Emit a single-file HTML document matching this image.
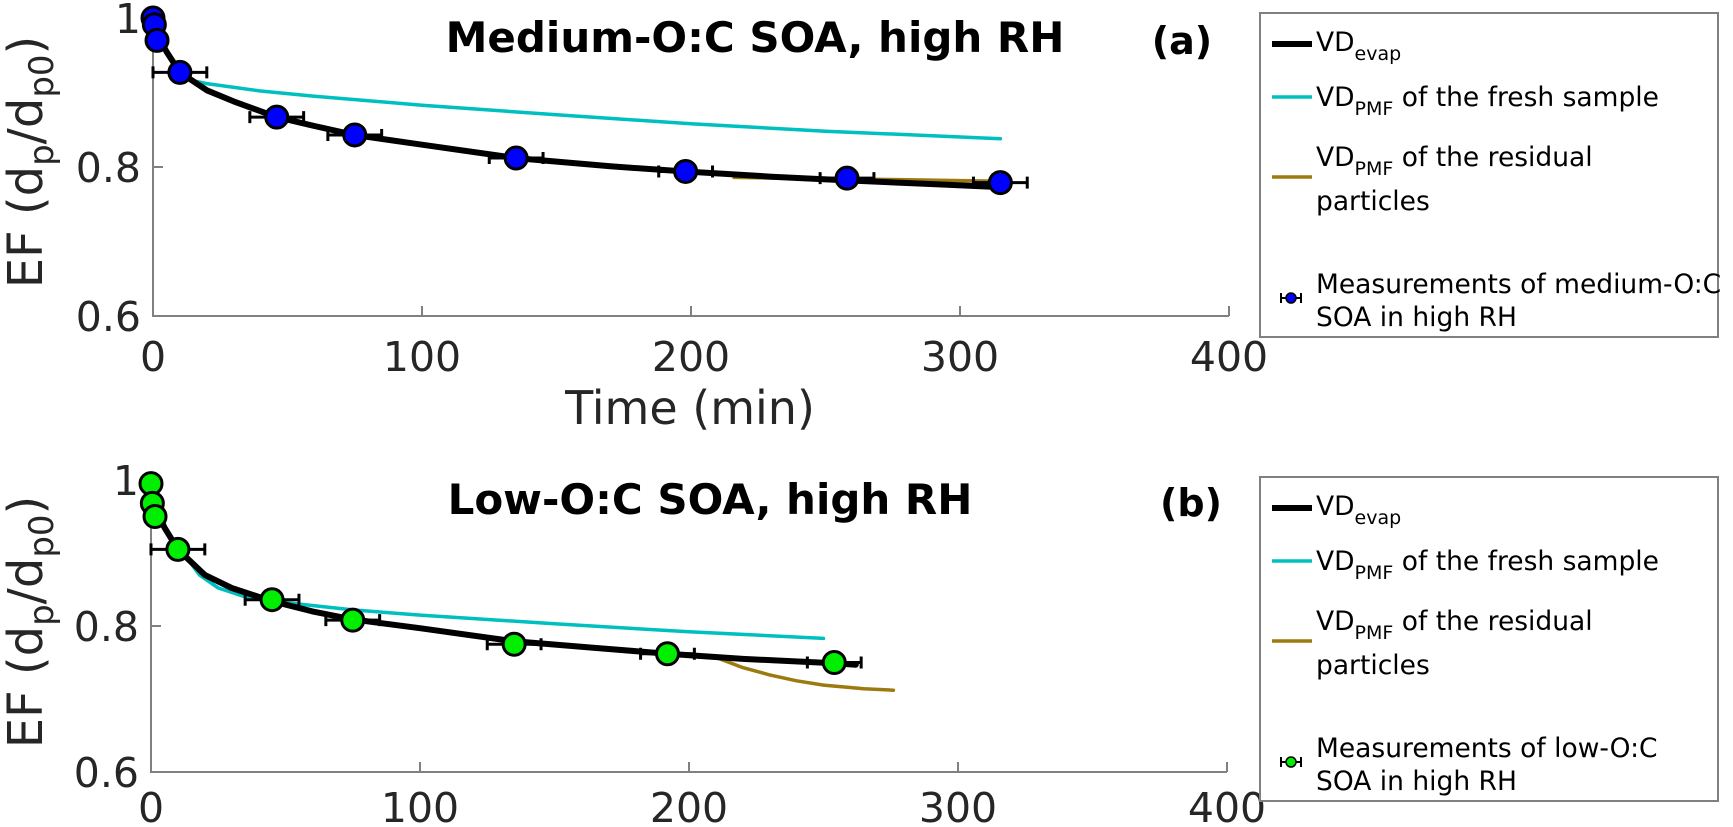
<!DOCTYPE html>
<html><head><meta charset="utf-8"><style>
html,body{margin:0;padding:0;background:#fff}
svg{display:block;font-family:"DejaVu Sans","Liberation Sans",sans-serif}
</style></head><body>
<svg id="chart" width="1733" height="827" viewBox="0 0 1733 827"></svg>
<script>
const tickX=[0,100,200,300,400];
const tickXLabels=["0","100","200","300","400"];
const tickY=[0.6,0.8,1.0];
const tickYLabels=["0.6","0.8","1"];
// panel a
const aEvapT=[0,2,5,10,20,30,46,60,75,100,135,170,198,230,258,290,315];
const aEvapV=[1.0,0.975,0.955,0.927,0.903,0.888,0.867,0.855,0.843,0.830,0.812,0.801,0.794,0.787,0.782,0.777,0.773];
const aFreshT=[12,20,40,60,100,150,200,250,315];
const aFreshV=[0.918,0.912,0.902,0.895,0.883,0.870,0.858,0.848,0.838];
const aResT=[216,250,280,315];
const aResV=[0.786,0.784,0.783,0.781];
const aMeasT=[0,0.5,1.5,10,46,75,135,198,258,315];
const aMeasV=[1.0,0.991,0.97,0.927,0.867,0.843,0.812,0.794,0.785,0.779];
const aMeasErr=[0,0,0,10,10,10,10,10,10,10];
// panel b
const bEvapT=[0,2,5,10,20,30,45,60,75,100,135,165,192,220,254,262];
const bEvapV=[1.0,0.96,0.935,0.905,0.87,0.852,0.834,0.82,0.809,0.797,0.779,0.770,0.762,0.755,0.749,0.747];
const bFreshT=[14,18,25,35,50,75,100,150,200,250];
const bFreshV=[0.89,0.87,0.852,0.840,0.832,0.822,0.815,0.803,0.792,0.783];
const bResT=[210,220,230,240,250,265,276];
const bResV=[0.757,0.743,0.733,0.725,0.719,0.714,0.712];
const bMeasT=[0,0.5,1.5,10,45,75,135,192,254];
const bMeasV=[0.995,0.968,0.950,0.905,0.836,0.808,0.775,0.762,0.750];
const bMeasErr=[0,0,0,10,10,10,10,10,10];

const NS="http://www.w3.org/2000/svg";
const svg=document.getElementById('chart');
function el(tag,attrs,parent,text){const e=document.createElementNS(NS,tag);for(const k in attrs)e.setAttribute(k,attrs[k]);if(text!==undefined)e.textContent=text;(parent||svg).appendChild(e);return e;}

function panel(cfg){
  const g=el('g',{});
  
  
  const sx=t=>cfg.x0+(t-0)/400*(cfg.x1-cfg.x0);
  const sy=v=>cfg.y0+(v-0.6)/0.4*(cfg.y1-cfg.y0);
  const ax=el('path',{d:`M${cfg.x0},${cfg.y1} L${cfg.x0},${cfg.y0} L${cfg.x1},${cfg.y0}`,fill:'none',stroke:'#808080','stroke-width':2},g);
  
  
  tickX.forEach((t,i)=>{
    el('line',{x1:sx(t),x2:sx(t),y1:cfg.y0,y2:cfg.y0-10,stroke:'#808080','stroke-width':2},g);
    const lb=el('text',{x:sx(t),y:cfg.y0+cfg.xlo,'text-anchor':'middle','font-size':41,fill:'#262626'},g,tickXLabels[i]);
    
    
  });
  tickY.forEach((v,i)=>{
    el('line',{x1:cfg.x0,x2:cfg.x0+10,y1:sy(v),y2:sy(v),stroke:'#808080','stroke-width':2},g);
    const lb=el('text',{x:cfg.x0-12,y:sy(v)+15,'text-anchor':'end','font-size':41,fill:'#262626'},g,tickYLabels[i]);
    
    
  });
  const yl=el('text',{transform:`translate(42,${cfg.ylc}) rotate(-90)`,'text-anchor':'middle','font-size':48,fill:'#262626'},g);
  
  
  el('tspan',{},yl,'EF (d');
  el('tspan',{'font-size':34,dy:11},yl,'p');
  el('tspan',{dy:-11},yl,'/d');
  el('tspan',{'font-size':34,dy:11},yl,'p0');
  el('tspan',{dy:-11},yl,')');
  const tt=el('text',{x:cfg.tx,y:cfg.ty,'text-anchor':'middle','font-size':42,'font-weight':'bold',fill:'#000'},g,cfg.title);
  
  
  const pl=el('text',{x:cfg.px,y:cfg.ty+2,'text-anchor':'middle','font-size':38,'font-weight':'bold',fill:'#000'},g,cfg.plabel);
  
  
  const line=(T,V,color,w,name)=>{
    const p=el('path',{d:T.map((t,i)=>(i?'L':'M')+sx(t).toFixed(1)+','+sy(V[i]).toFixed(1)).join(' '),fill:'none',stroke:color,'stroke-width':w,'stroke-linejoin':'round','stroke-linecap':'round'},g);
    
    
  };
  line(cfg.freshT,cfg.freshV,'#00bfbf',3.5,'vd-pmf-fresh-line');
  line(cfg.resT,cfg.resV,'#9b7a0f',3.5,'vd-pmf-residual-line');
  line(cfg.evapT,cfg.evapV,'#000',6,'vd-evap-line');
  cfg.measT.forEach((t,i)=>{
    const cx=sx(t),cy=sy(cfg.measV[i]),e=cfg.err[i];
    if(e>0){
      const a=sx(t-e),b=sx(t+e);
      const eb=el('path',{d:`M${a},${cy} L${b},${cy} M${a},${cy-6} L${a},${cy+6} M${b},${cy-6} L${b},${cy+6}`,stroke:'#000','stroke-width':3,fill:'none'},g);
      
      
    }
    const c=el('circle',{cx:cx,cy:cy,r:11,fill:cfg.mcolor,stroke:'#000','stroke-width':3},g);
    
    
  });
  const L=cfg.ly;
  const lg=el('g',{},g);
  
  
  el('rect',{x:1260,y:L,width:458,height:324,fill:'#fff',stroke:'#808080','stroke-width':2},lg);
  const entry=(y,color,w)=>el('line',{x1:1272,x2:1312,y1:y,y2:y,stroke:color,'stroke-width':w},lg);
  const txt=(y,parts)=>{const t=el('text',{x:1316,y:y,'font-size':26.5,fill:'#000'},lg);parts.forEach(p=>{el('tspan',p[1]||{},t,p[0]);});return t;};
  entry(L+31,'#000',6);
  txt(L+38,[['VD'],['evap',{'font-size':19,dy:9}]]);
  entry(L+84,'#00bfbf',3.5);
  txt(L+93,[['VD'],['PMF',{'font-size':19,dy:9}],[' of the fresh sample',{dy:-9}]]);
  entry(L+164,'#9b7a0f',3.5);
  txt(L+153,[['VD'],['PMF',{'font-size':19,dy:9}],[' of the residual',{dy:-9}]]);
  txt(L+197,[['particles']]);
  el('line',{x1:1281,x2:1301,y1:L+285,y2:L+285,stroke:'#000','stroke-width':2},lg);
  el('line',{x1:1281,x2:1281,y1:L+280,y2:L+290,stroke:'#000','stroke-width':2},lg);
  el('line',{x1:1301,x2:1301,y1:L+280,y2:L+290,stroke:'#000','stroke-width':2},lg);
  el('circle',{cx:1291,cy:L+285,r:5,fill:cfg.mcolor,stroke:'#000','stroke-width':1.5},lg);
  txt(L+280,[[cfg.leg1]]);
  txt(L+313,[['SOA in high RH']]);
}
panel({name:'panel-a',x0:153,x1:1229,y0:316,y1:18,ylc:162,xlo:55,tx:755,ty:52,px:1182,plabel:'(a)',title:'Medium-O:C SOA, high RH',
  evapT:aEvapT,evapV:aEvapV,freshT:aFreshT,freshV:aFreshV,resT:aResT,resV:aResV,measT:aMeasT,measV:aMeasV,err:aMeasErr,mcolor:'#0000ff',ly:13,leg1:'Measurements of medium-O:C'});
panel({name:'panel-b',x0:151,x1:1227,y0:772,y1:480,ylc:622,xlo:50,tx:710,ty:514,px:1191,plabel:'(b)',title:'Low-O:C SOA, high RH',
  evapT:bEvapT,evapV:bEvapV,freshT:bFreshT,freshV:bFreshV,resT:bResT,resV:bResV,measT:bMeasT,measV:bMeasV,err:bMeasErr,mcolor:'#00ee00',ly:477,leg1:'Measurements of low-O:C'});
const xt=el('text',{x:690,y:424,'text-anchor':'middle','font-size':46,fill:'#262626'},svg,'Time (min)');


</script>
</body></html>
